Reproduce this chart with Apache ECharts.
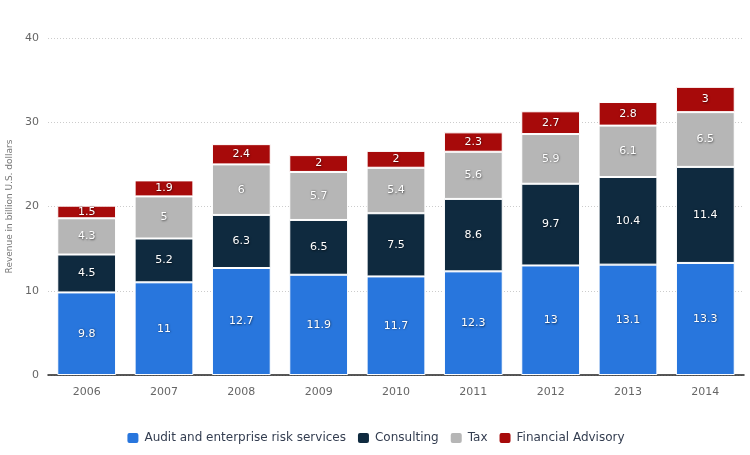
<!DOCTYPE html>
<html><head><meta charset="utf-8">
<script src="https://cdn.jsdelivr.net/npm/echarts@6/dist/echarts.min.js"></script>
<style>html,body{margin:0;padding:0;background:#fff}#c{width:750px;height:455px}</style>
</head><body><div id="c"></div>
<script>
const years = ['2006','2007','2008','2009','2010','2011','2012','2013','2014'];
const audit = [9.8, 11, 12.7, 11.9, 11.7, 12.3, 13, 13.1, 13.3];
const consulting = [4.5, 5.2, 6.3, 6.5, 7.5, 8.6, 9.7, 10.4, 11.4];
const tax = [4.3, 5, 6, 5.7, 5.4, 5.6, 5.9, 6.1, 6.5];
const advisory = [1.5, 1.9, 2.4, 2, 2, 2.3, 2.7, 2.8, 3];
const yTicks = [0, 10, 20, 30, 40];

const chart = echarts.init(document.getElementById('c'));
const lbl = {show:true, position:'inside', color:'#fff', fontSize:11, fontFamily:'DejaVu Sans',
  textShadowColor:'rgba(0,0,0,0.6)', textShadowBlur:2, textShadowOffsetX:0.5, textShadowOffsetY:0.5};
function ser(name, data, color){
  return {name, type:'bar', stack:'t', data, barWidth:'76%',
    itemStyle:{color, borderColor:'#fff', borderWidth:1},
    label:lbl, emphasis:{disabled:true}};
}
chart.setOption({
  animation:false,
  textStyle:{fontFamily:'DejaVu Sans'},
  grid:{left:48, right:6, top:38, bottom:80, outerBoundsMode:'none', containLabel:false},
  legend:{bottom:5, left:'center', itemWidth:13, itemHeight:12, itemGap:10,
    icon:'roundRect', textStyle:{color:'#333d50', fontSize:12}},
  xAxis:{type:'category', data:years,
    axisLine:{lineStyle:{color:'#222', width:1.5}}, axisTick:{show:false},
    axisLabel:{color:'#666', fontSize:11, margin:12}},
  yAxis:{type:'value', min:yTicks[0], max:yTicks[yTicks.length-1], interval:10,
    name:'Revenue in billion U.S. dollars', nameLocation:'middle', nameGap:27,
    nameTextStyle:{color:'#777', fontSize:9}},
  series:[
    ser('Audit and enterprise risk services', audit, '#2876dd'),
    ser('Consulting', consulting, '#0f2a3f'),
    ser('Tax', tax, '#b6b6b6'),
    ser('Financial Advisory', advisory, '#a70a0a')
  ]
});
chart.setOption({yAxis:{axisLine:{show:false}, axisTick:{show:false},
    axisLabel:{color:'#666', fontSize:11, margin:9},
    splitLine:{lineStyle:{color:'#ccc', type:[1,2]}}}});
</script></body></html>
